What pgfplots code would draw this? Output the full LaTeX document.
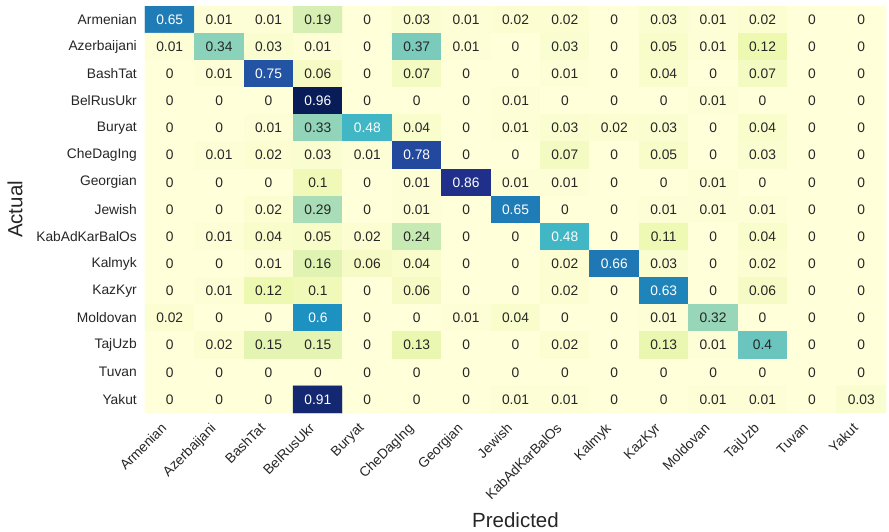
\documentclass[border=0pt]{standalone}
\usepackage{fontspec}
\setmainfont{Liberation Sans}
\usepackage{pgfplots}
\pgfplotsset{compat=1.18}
\usepackage{pgfplotstable}

\definecolor{txt}{HTML}{262626}

% Confusion matrix: column = predicted class, row = actual class, v = share
\pgfplotstableread[row sep=\\]{
x y v\\
0 0 0.65\\ 1 0 0.01\\ 2 0 0.01\\ 3 0 0.19\\ 4 0 0\\ 5 0 0.03\\ 6 0 0.01\\ 7 0 0.02\\ 8 0 0.02\\ 9 0 0\\ 10 0 0.03\\ 11 0 0.01\\ 12 0 0.02\\ 13 0 0\\ 14 0 0\\
0 1 0.01\\ 1 1 0.34\\ 2 1 0.03\\ 3 1 0.01\\ 4 1 0\\ 5 1 0.37\\ 6 1 0.01\\ 7 1 0\\ 8 1 0.03\\ 9 1 0\\ 10 1 0.05\\ 11 1 0.01\\ 12 1 0.12\\ 13 1 0\\ 14 1 0\\
0 2 0\\ 1 2 0.01\\ 2 2 0.75\\ 3 2 0.06\\ 4 2 0\\ 5 2 0.07\\ 6 2 0\\ 7 2 0\\ 8 2 0.01\\ 9 2 0\\ 10 2 0.04\\ 11 2 0\\ 12 2 0.07\\ 13 2 0\\ 14 2 0\\
0 3 0\\ 1 3 0\\ 2 3 0\\ 3 3 0.96\\ 4 3 0\\ 5 3 0\\ 6 3 0\\ 7 3 0.01\\ 8 3 0\\ 9 3 0\\ 10 3 0\\ 11 3 0.01\\ 12 3 0\\ 13 3 0\\ 14 3 0\\
0 4 0\\ 1 4 0\\ 2 4 0.01\\ 3 4 0.33\\ 4 4 0.48\\ 5 4 0.04\\ 6 4 0\\ 7 4 0.01\\ 8 4 0.03\\ 9 4 0.02\\ 10 4 0.03\\ 11 4 0\\ 12 4 0.04\\ 13 4 0\\ 14 4 0\\
0 5 0\\ 1 5 0.01\\ 2 5 0.02\\ 3 5 0.03\\ 4 5 0.01\\ 5 5 0.78\\ 6 5 0\\ 7 5 0\\ 8 5 0.07\\ 9 5 0\\ 10 5 0.05\\ 11 5 0\\ 12 5 0.03\\ 13 5 0\\ 14 5 0\\
0 6 0\\ 1 6 0\\ 2 6 0\\ 3 6 0.1\\ 4 6 0\\ 5 6 0.01\\ 6 6 0.86\\ 7 6 0.01\\ 8 6 0.01\\ 9 6 0\\ 10 6 0\\ 11 6 0.01\\ 12 6 0\\ 13 6 0\\ 14 6 0\\
0 7 0\\ 1 7 0\\ 2 7 0.02\\ 3 7 0.29\\ 4 7 0\\ 5 7 0.01\\ 6 7 0\\ 7 7 0.65\\ 8 7 0\\ 9 7 0\\ 10 7 0.01\\ 11 7 0.01\\ 12 7 0.01\\ 13 7 0\\ 14 7 0\\
0 8 0\\ 1 8 0.01\\ 2 8 0.04\\ 3 8 0.05\\ 4 8 0.02\\ 5 8 0.24\\ 6 8 0\\ 7 8 0\\ 8 8 0.48\\ 9 8 0\\ 10 8 0.11\\ 11 8 0\\ 12 8 0.04\\ 13 8 0\\ 14 8 0\\
0 9 0\\ 1 9 0\\ 2 9 0.01\\ 3 9 0.16\\ 4 9 0.06\\ 5 9 0.04\\ 6 9 0\\ 7 9 0\\ 8 9 0.02\\ 9 9 0.66\\ 10 9 0.03\\ 11 9 0\\ 12 9 0.02\\ 13 9 0\\ 14 9 0\\
0 10 0\\ 1 10 0.01\\ 2 10 0.12\\ 3 10 0.1\\ 4 10 0\\ 5 10 0.06\\ 6 10 0\\ 7 10 0\\ 8 10 0.02\\ 9 10 0\\ 10 10 0.63\\ 11 10 0\\ 12 10 0.06\\ 13 10 0\\ 14 10 0\\
0 11 0.02\\ 1 11 0\\ 2 11 0\\ 3 11 0.6\\ 4 11 0\\ 5 11 0\\ 6 11 0.01\\ 7 11 0.04\\ 8 11 0\\ 9 11 0\\ 10 11 0.01\\ 11 11 0.32\\ 12 11 0\\ 13 11 0\\ 14 11 0\\
0 12 0\\ 1 12 0.02\\ 2 12 0.15\\ 3 12 0.15\\ 4 12 0\\ 5 12 0.13\\ 6 12 0\\ 7 12 0\\ 8 12 0.02\\ 9 12 0\\ 10 12 0.13\\ 11 12 0.01\\ 12 12 0.4\\ 13 12 0\\ 14 12 0\\
0 13 0\\ 1 13 0\\ 2 13 0\\ 3 13 0\\ 4 13 0\\ 5 13 0\\ 6 13 0\\ 7 13 0\\ 8 13 0\\ 9 13 0\\ 10 13 0\\ 11 13 0\\ 12 13 0\\ 13 13 0\\ 14 13 0\\
0 14 0\\ 1 14 0\\ 2 14 0\\ 3 14 0.91\\ 4 14 0\\ 5 14 0\\ 6 14 0\\ 7 14 0.01\\ 8 14 0.01\\ 9 14 0\\ 10 14 0\\ 11 14 0.01\\ 12 14 0.01\\ 13 14 0\\ 14 14 0.03\\
}\cm

\begin{document}
\begin{tikzpicture}
\begin{axis}[
  at={(0,0)}, anchor=south west,
  scale only axis,
  width=741pt, height=407pt,
  xmin=-0.5, xmax=14.5, ymin=-0.5, ymax=14.5,
  y dir=reverse,
  enlargelimits=false,
  axis line style={draw=none},
  major tick length=0pt,
  colormap={ylgnbu}{rgb255=(255,255,217) rgb255=(237,248,177) rgb255=(199,233,180)
    rgb255=(127,205,187) rgb255=(65,182,196) rgb255=(29,145,192)
    rgb255=(34,94,168) rgb255=(37,52,148) rgb255=(8,29,88)},
  point meta min=0, point meta max=0.96,
  xtick={0,...,14}, ytick={0,...,14},
  xticklabels={Armenian,Azerbaijani,BashTat,BelRusUkr,Buryat,CheDagIng,Georgian,Jewish,KabAdKarBalOs,Kalmyk,KazKyr,Moldovan,TajUzb,Tuvan,Yakut},
  yticklabels={Armenian,Azerbaijani,BashTat,BelRusUkr,Buryat,CheDagIng,Georgian,Jewish,KabAdKarBalOs,Kalmyk,KazKyr,Moldovan,TajUzb,Tuvan,Yakut},
  tick label style={font=\fontsize{13.8}{16}\selectfont, text=txt},
  xticklabel style={xshift=-9.5pt, yshift=-6pt, rotate=45, anchor=north east, inner sep=2pt},
  yticklabel style={anchor=east, inner sep=0pt, xshift=-8pt},
  xlabel={Predicted}, ylabel={Actual},
  label style={font=\fontsize{20.5}{24}\selectfont, text=txt},
  xlabel style={at={(axis description cs:0.5,-0.2801)}, anchor=base},
  ylabel style={at={(axis description cs:-0.1754,0.5)}, anchor=center},
  nodes near coords style={anchor=center, inner sep=0pt, font=\fontsize{13.8}{16}\selectfont},
]
\addplot[matrix plot*, mesh/cols=15, point meta=explicit] table[x=x, y=y, meta=v] {\cm};
% cell values: white on dark cells, grey on light cells
\addplot[only marks, mark=none, point meta=explicit symbolic, nodes near coords,
  every node near coord/.append style={text=white},
  restrict expr to domain={\thisrow{v}}{0.45:1}] table[x=x, y=y, meta=v] {\cm};
\addplot[only marks, mark=none, point meta=explicit symbolic, nodes near coords,
  every node near coord/.append style={text=txt},
  restrict expr to domain={\thisrow{v}}{-1:0.45}] table[x=x, y=y, meta=v] {\cm};
\end{axis}
\pgfresetboundingbox
\path (-145pt,-119pt) rectangle (744pt,413pt);
\end{tikzpicture}
\end{document}
